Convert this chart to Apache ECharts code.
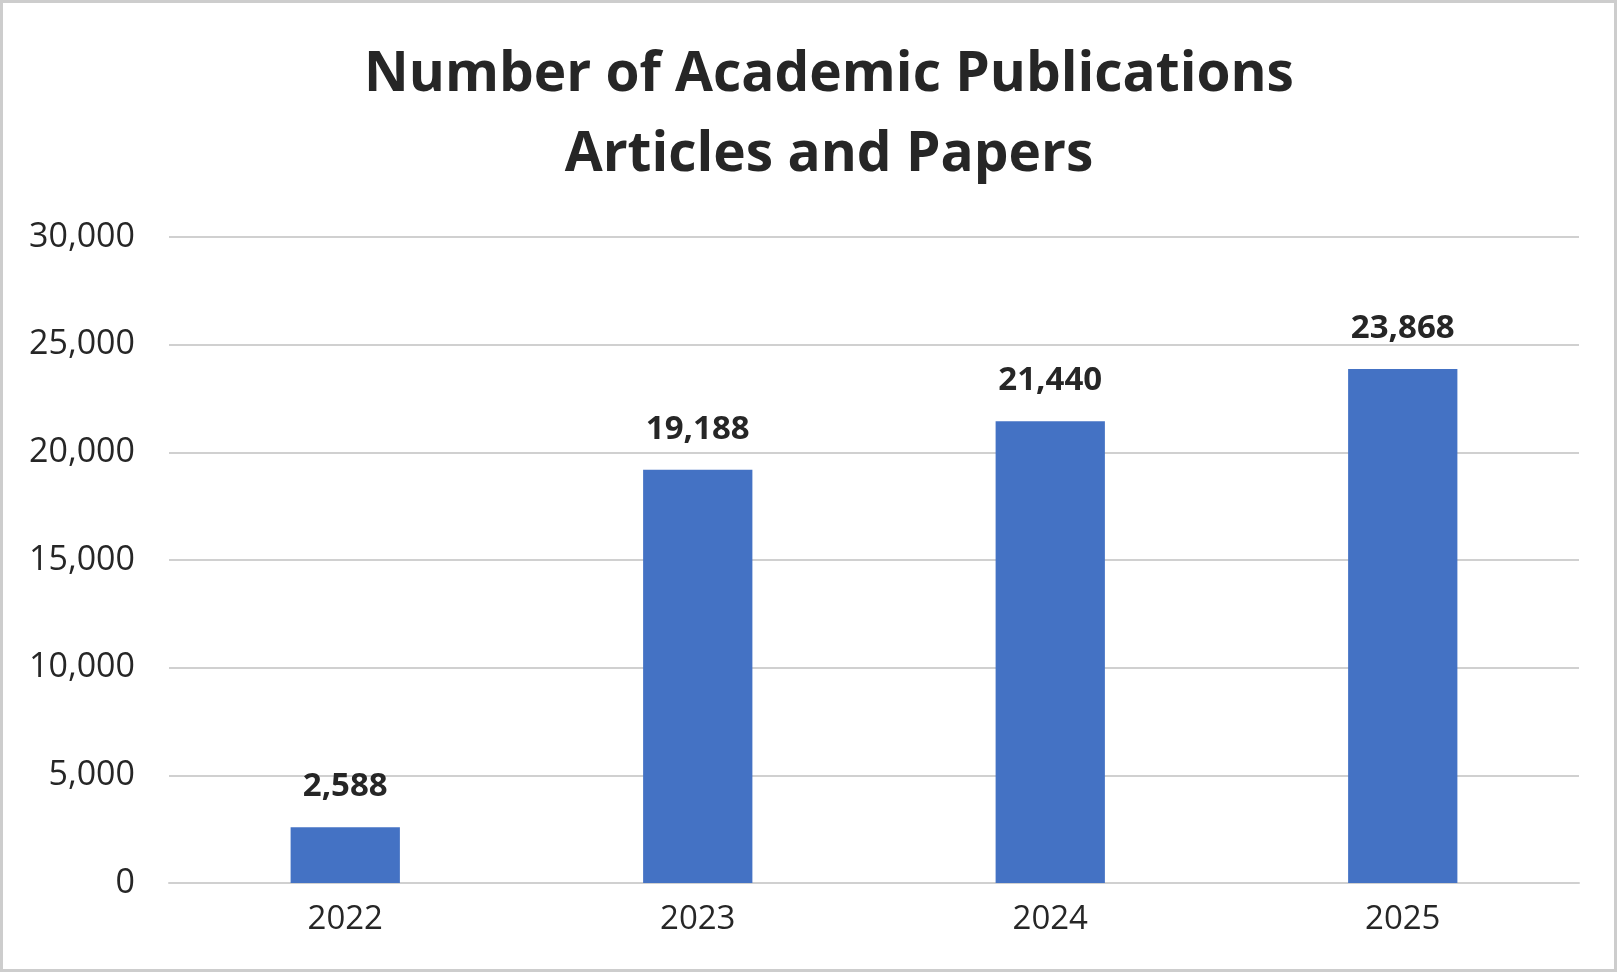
<!DOCTYPE html>
<html>
<head>
<meta charset="utf-8">
<script src="https://cdn.jsdelivr.net/npm/echarts@6/dist/echarts.min.js"></script>
<style>
  html, body { margin: 0; padding: 0; background: #fff; }
  #chart { width: 1617px; height: 972px; box-sizing: border-box; border: 3px solid #cdcdcd; }
</style>
</head>
<body>
<div id="chart"></div>
<script>
var years = ['2022', '2023', '2024', '2025'];
var publications = [2588, 19188, 21440, 23868];
var yTicks = [0, 5000, 10000, 15000, 20000, 25000, 30000];

var myChart = echarts.init(document.getElementById('chart'));

var fmt = function (v) { return v.toLocaleString('en-US'); };

var option = {
    animation: false,
    textStyle: { fontFamily: 'Open Sans' },
    title: {
        text: 'Number of Academic Publications\nArticles and Papers',
        left: 821,
        textAlign: 'center',
        top: 27,
        textStyle: {
            fontFamily: 'Open Sans',
            fontSize: 55,
            fontWeight: 'bold',
            color: '#262626',
            lineHeight: 80
        }
    },
    grid: { left: 166, right: 35, top: 234, bottom: 86 },
    xAxis: {
        type: 'category',
        data: years,
        axisLine: { lineStyle: { color: '#d0d0d0', width: 2 } },
        axisTick: { show: false },
        axisLabel: { fontSize: 33, color: '#262626', margin: 20 }
    },
    yAxis: {
        type: 'value',
        min: yTicks[0],
        max: yTicks[yTicks.length - 1],
        interval: 5000,
        axisLine: { show: false },
        axisTick: { show: false },
        splitLine: { lineStyle: { color: '#d0d0d0', width: 2 } },
        axisLabel: { fontSize: 34, color: '#262626', margin: 34, formatter: fmt }
    },
    series: [{
        type: 'bar',
        data: publications,
        barWidth: '31%',
        itemStyle: { color: '#4472C4' },
        label: {
            show: true,
            position: 'top',
            distance: 24,
            fontSize: 33,
            fontWeight: 'bold',
            color: '#262626',
            formatter: function (p) { return fmt(p.value); }
        }
    }]
};

myChart.setOption(option);
</script>
</body>
</html>
